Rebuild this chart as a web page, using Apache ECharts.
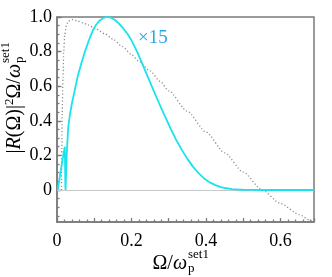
<!DOCTYPE html>
<html><head><meta charset="utf-8">
<script src="https://cdn.jsdelivr.net/npm/echarts@6/dist/echarts.min.js"></script>
<style>html,body{margin:0;padding:0;background:#fff}#c{width:332px;height:277px}</style>
</head><body><div id="c"></div>
<script>
// ---- data ----
const xTickLabels = [0, 0.2, 0.4, 0.6];
const yTickLabels = [0, 0.2, 0.4, 0.6, 0.8, 1.0];
const yMinorTicks = [-0.15, -0.1, -0.05, 0, 0.05, 0.1, 0.15, 0.2, 0.25, 0.3, 0.35, 0.4, 0.45, 0.5, 0.55, 0.6, 0.65, 0.7, 0.75, 0.8, 0.85, 0.9, 0.95, 1.0];
const cyanX = [0.002, 0.01, 0.016, 0.021, 0.022, 0.0225, 0.023, 0.026, 0.03, 0.035, 0.04, 0.048, 0.056, 0.065, 0.075, 0.083, 0.09, 0.097, 0.105, 0.115, 0.125, 0.134, 0.145, 0.155, 0.165, 0.175, 0.19, 0.2, 0.215, 0.23, 0.245, 0.26, 0.275, 0.29, 0.305, 0.32, 0.335, 0.35, 0.365, 0.38, 0.395, 0.41, 0.425, 0.44, 0.455, 0.47, 0.485, 0.5, 0.52, 0.55, 0.6, 0.69];
const cyanY = [0, 0.11, 0.19, 0.25, 0.26, 0.02, 0, 0.2, 0.36, 0.44, 0.5, 0.58, 0.66, 0.73, 0.8, 0.85, 0.89, 0.925, 0.955, 0.98, 0.995, 1.0, 0.996, 0.984, 0.965, 0.942, 0.9, 0.865, 0.8, 0.725, 0.648, 0.572, 0.497, 0.425, 0.355, 0.29, 0.232, 0.18, 0.135, 0.097, 0.067, 0.044, 0.028, 0.017, 0.01, 0.0055, 0.003, 0.0015, 0.0005, 0, 0, 0];
const grayX = [0.012, 0.013, 0.014, 0.016, 0.018, 0.021, 0.025, 0.03, 0.04, 0.055, 0.07, 0.083, 0.105, 0.129, 0.15, 0.175, 0.2, 0.218, 0.25, 0.277, 0.3, 0.35, 0.4, 0.45, 0.5, 0.551, 0.6, 0.65, 0.68, 0.69];
const grayY = [0, 0.25, 0.45, 0.65, 0.8, 0.9, 0.95, 0.975, 0.985, 0.977, 0.966, 0.954, 0.93, 0.902, 0.872, 0.83, 0.783, 0.747, 0.688, 0.628, 0.573, 0.455, 0.335, 0.215, 0.103, 0, -0.078, -0.142, -0.176, -0.187];
const scaleLabel = '×15';
const xTitle = ['Ω/', 'ω', 'set1', 'p'];
const yTitle = ['|', 'R', '(Ω)|', '2', 'Ω/', 'ω', 'set1', 'p'];

const SERIF = "'Liberation Serif','DejaVu Serif',serif";
const FRAME = '#7a7a7a';
const zip = (xs, ys) => xs.map((x, i) => [x, ys[i]]);

const richBase = {
  n: {fontFamily: SERIF, fontSize: 20, lineHeight: 24, color: '#000'},
  i: {fontFamily: SERIF, fontSize: 20, fontStyle: 'italic', lineHeight: 24, color: '#000'},
  s: {fontFamily: SERIF, fontSize: 13, lineHeight: 14, verticalAlign: 'top', color: '#000'}
};
function txt(x, y, text, size, extra) {
  return Object.assign({type: 'text', x: x, y: y, silent: true, style: Object.assign({
    text: text, fontFamily: SERIF, fontSize: size, fill: '#000',
    align: 'left', textAlign: 'left', verticalAlign: 'middle', textVerticalAlign: 'middle'
  }, extra || {})});
}
function titleGroup(x, y, rot, richText, sup, sub) {
  return {type: 'group', x: x, y: y, rotation: rot, silent: true, children: [
    {type: 'text', x: 0, y: 0, style: {text: richText, rich: richBase, fill: '#000', fontFamily: SERIF, fontSize: 20,
      align: 'right', textAlign: 'right', verticalAlign: 'middle', textVerticalAlign: 'middle'}},
    txt(1, -9, sup, 13),
    txt(1, 5, sub, 13)
  ]};
}

const chart = echarts.init(document.getElementById('c'), null, {renderer: 'canvas'});
const yMin = -0.185, yMax = 1.0;
const axLine = {show: true, onZero: false, lineStyle: {color: FRAME, width: 1.5}};
chart.setOption({
  animation: false,
  backgroundColor: '#fff',
  grid: {left: 57, right: 18, top: 17, bottom: 55, show: true, borderColor: FRAME, borderWidth: 1.5, backgroundColor: 'transparent'},
  xAxis: {
    type: 'value', min: 0, max: 0.69, interval: 0.1,
    axisLine: axLine,
    splitLine: {show: false},
    axisTick: {show: true, inside: true, length: 4, lineStyle: {color: FRAME, width: 1.3}},
    minorTick: {show: true, splitNumber: 5, length: 2.5, lineStyle: {color: FRAME, width: 1.3}},
    axisLabel: {
      customValues: xTickLabels,
      margin: 10, color: '#000', fontFamily: SERIF, fontSize: 18,
      formatter: v => (Math.abs(v) < 1e-9 ? '0' : v.toFixed(1))
    }
  },
  yAxis: [{
    type: 'value', min: yMin, max: yMax,
    axisLine: axLine,
    splitLine: {show: false},
    axisTick: {show: true, inside: true, length: 4.5, customValues: yTickLabels, lineStyle: {color: FRAME, width: 1.3}},
    axisLabel: {
      customValues: yTickLabels,
      margin: 5, color: '#000', fontFamily: SERIF, fontSize: 18,
      formatter: v => (Math.abs(v) < 1e-9 ? '0' : v.toFixed(1))
    }
  }, {
    type: 'value', min: yMin, max: yMax, position: 'left',
    axisLine: {show: false, onZero: false}, splitLine: {show: false}, axisLabel: {show: false},
    axisTick: {show: true, inside: true, length: 2.5, customValues: yMinorTicks, lineStyle: {color: FRAME, width: 1.3}}
  }],
  series: [{
    type: 'line', data: zip(grayX, grayY), showSymbol: false, smooth: 0.25, smoothMonotone: 'x',
    clip: true, z: 2,
    lineStyle: {color: '#8f8f8f', width: 1.3, type: [1.2, 2.2]},
    markLine: {silent: true, symbol: 'none', label: {show: false}, z: 1,
      lineStyle: {color: '#c8c8c8', width: 1, type: 'solid'}, data: [{yAxis: 0}]}
  }, {
    type: 'line', data: zip(cyanX, cyanY), showSymbol: false, smooth: false,
    clip: true, z: 3,
    lineStyle: {color: '#18e4ee', width: 1.8}
  }],
  graphic: [
    txt(138, 38, scaleLabel, 19, {fill: '#29a8e8'}),
    titleGroup(187, 264, 0, `{n|${xTitle[0]}}{i|${xTitle[1]}}`, xTitle[2], xTitle[3]),
    titleGroup(15, 64, Math.PI / 2, `{n|${yTitle[0]}}{i|${yTitle[1]}}{n|${yTitle[2]}}{s|${yTitle[3]}}{n|${yTitle[4]}}{i|${yTitle[5]}}`, yTitle[6], yTitle[7])
  ]
});
</script></body></html>
